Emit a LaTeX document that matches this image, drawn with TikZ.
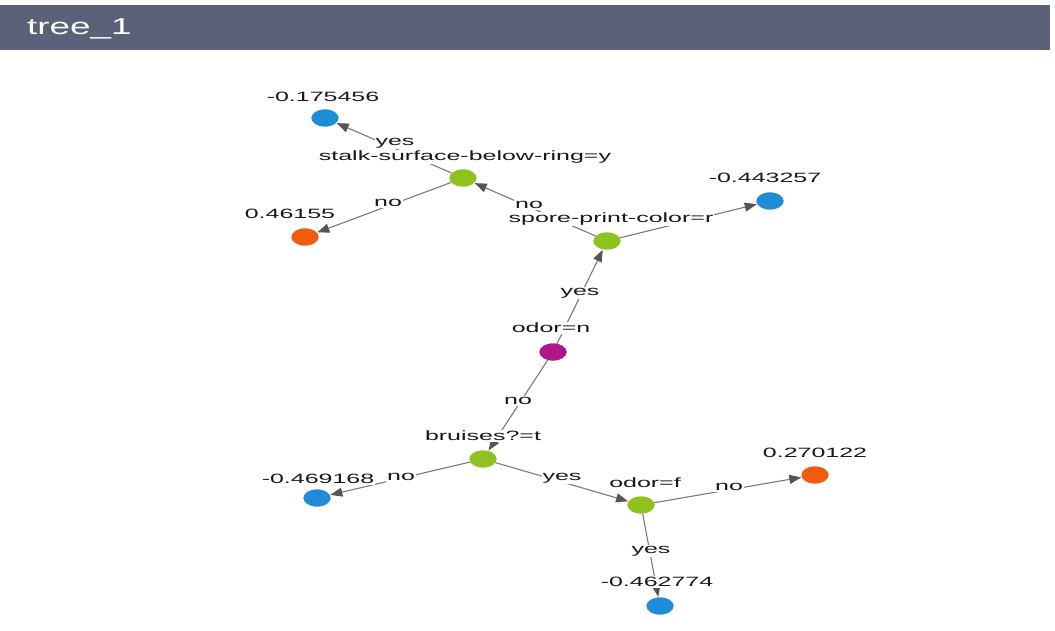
\documentclass[tikz,border=0pt]{standalone}
\usepackage{fontspec}
\setmainfont{Liberation Sans}
\newfontfamily\lblfont[FakeStretch=1.85]{Liberation Sans}
\newfontfamily\hdrfont[FakeStretch=1.6]{Liberation Sans}
\usetikzlibrary{arrows.meta,shapes.geometric}
\definecolor{hdr}{HTML}{5B6179}
\definecolor{cblue}{HTML}{1E8CD6}
\definecolor{cgreen}{HTML}{8DC21F}
\definecolor{corange}{HTML}{F25A0F}
\definecolor{cmag}{HTML}{B0158A}
\definecolor{edgec}{HTML}{7A7A7A}
\definecolor{tipc}{HTML}{555555}
\tikzset{
  dot/.style={ellipse, minimum width=27pt, minimum height=17pt, inner sep=0pt, draw=none},
  leafblue/.style={dot, fill=cblue},
  leaforange/.style={dot, fill=corange},
  split/.style={dot, fill=cgreen},
  rootsplit/.style={dot, fill=cmag},
  txt/.style={font=\lblfont\fontsize{13.5}{15}\selectfont, text=black!90, fill=white, inner sep=1pt},
  edge/.style={draw=edgec, line width=1.1pt, -{Triangle[length=12pt,width=9pt,fill=tipc,color=tipc]}, shorten >=0.5pt},
}
\begin{document}
\begin{tikzpicture}[x=1pt,y=-1pt]
\useasboundingbox (0,0) rectangle (1055,631);
\fill[white] (0,0) rectangle (1055,631);
% header
\fill[hdr] (0,5) rectangle (1050,50);
\node[anchor=west, text=white, font=\hdrfont\fontsize{23}{26}\selectfont, inner sep=0pt] (title) at (27,29) {tree\_1};

% nodes
\node[leafblue] (l1) at (325,118) {};
\node[split] (stalk) at (463,178) {};
\node[leaforange] (l2) at (305,237) {};
\node[split] (spore) at (607,241) {};
\node[leafblue] (l3) at (770,201) {};
\node[rootsplit] (odorn) at (553,352) {};
\node[split] (bruise) at (483,459) {};
\node[leafblue] (l4) at (317,498) {};
\node[split] (odorf) at (641,505) {};
\node[leaforange] (l5) at (815,475) {};
\node[leafblue] (l6) at (660,606) {};

% edges
\draw[edge] (stalk) -- (l1);
\draw[edge] (stalk) -- (l2);
\draw[edge] (spore) -- (stalk);
\draw[edge] (spore) -- (l3);
\draw[edge] (odorn) -- (spore);
\draw[edge] (odorn) -- (bruise);
\draw[edge] (bruise) -- (l4);
\draw[edge] (bruise) -- (odorf);
\draw[edge] (odorf) -- (l5);
\draw[edge] (odorf) -- (l6);

% edge labels
\node[txt] (e1) at (395,143) {yes};
\node[txt] (e2) at (388,203) {no};
\node[txt] (e3) at (529,205) {no};
\node[txt] (e4) at (580,293) {yes};
\node[txt] (e5) at (518,401) {no};
\node[txt] (e6) at (401,477) {no};
\node[txt] (e7) at (562,478) {yes};
\node[txt] (e8) at (729,487) {no};
\node[txt] (e9) at (651,551) {yes};

% node labels
\node[txt] (t1) at (323,97) {-0.175456};
\node[txt] (t2) at (465,157) {stalk-surface-below-ring=y};
\node[txt] (t3) at (290,214) {0.46155};
\node[txt] (t4) at (611,219) {spore-print-color=r};
\node[txt] (t5) at (765,178) {-0.443257};
\node[txt] (t6) at (551,328) {odor=n};
\node[txt] (t7) at (483,436) {bruises?=t};
\node[txt] (t8) at (318,479) {-0.469168};
\node[txt] (t9) at (645,483) {odor=f};
\node[txt] (t10) at (815,453) {0.270122};
\node[txt] (t11) at (657,582) {-0.462774};

% redraw dots on top
\node[leafblue] at (l1) {};
\node[split] at (stalk) {};
\node[leaforange] at (l2) {};
\node[split] at (spore) {};
\node[leafblue] at (l3) {};
\node[rootsplit] at (odorn) {};
\node[split] at (bruise) {};
\node[leafblue] at (l4) {};
\node[split] at (odorf) {};
\node[leaforange] at (l5) {};
\node[leafblue] at (l6) {};
\end{tikzpicture}
\end{document}
